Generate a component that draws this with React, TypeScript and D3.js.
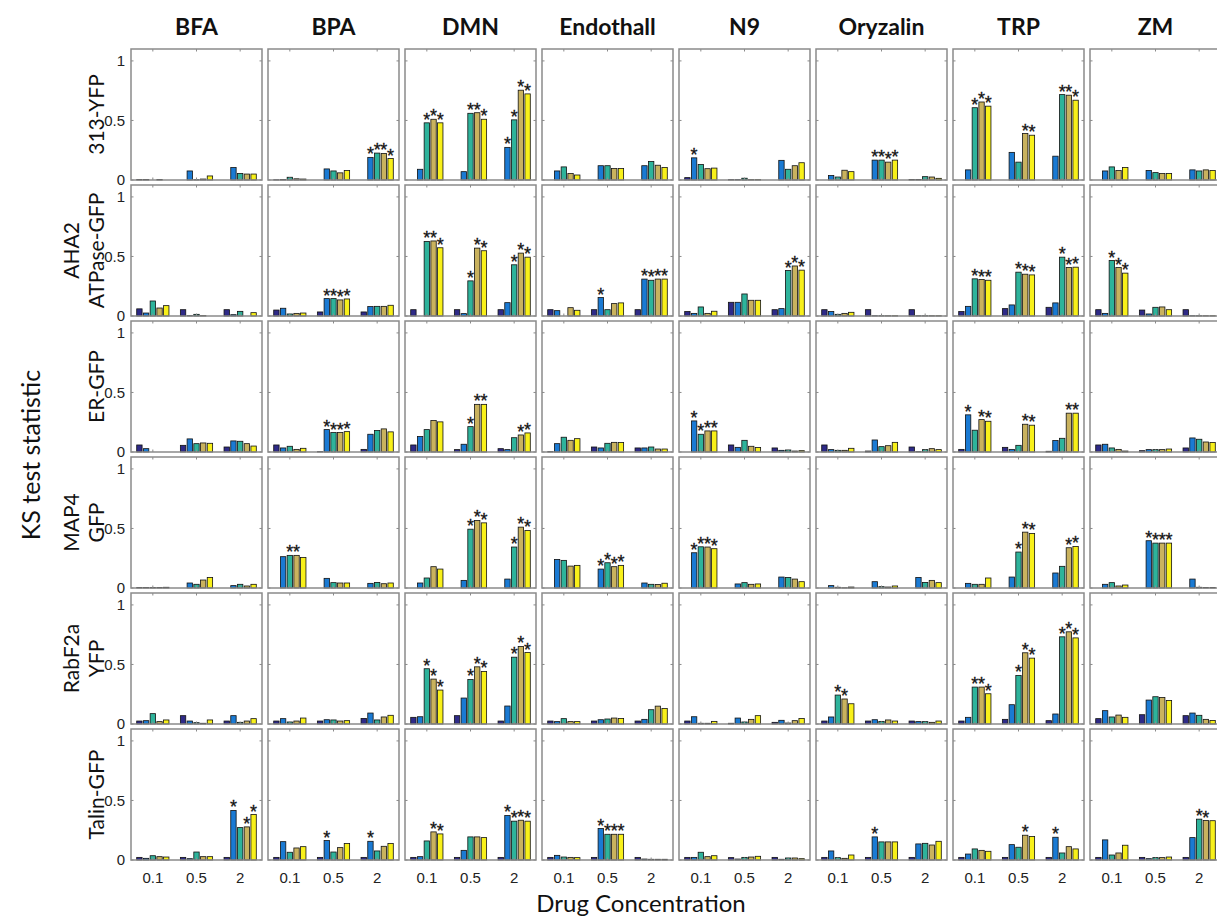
import * as d3 from "d3"

const drugs = ["BFA", "BPA", "DMN", "Endothall", "N9", "Oryzalin", "TRP", "ZM"]
const concentrations = ["0.1", "0.5", "2"]
const markerLabels = [["313-YFP"], ["AHA2", "ATPase-GFP"], ["ER-GFP"], ["MAP4", "GFP"], ["RabF2a", "YFP"], ["Talin-GFP"]]
const yTicks = [0, 0.5, 1]
const seriesColors = ["#2e2a87", "#1a7ad3", "#2eb39b", "#c9b25e", "#f8f01a"]

// KS statistic per drug -> [conc 0.1, 0.5, 2] -> 5 series
const ks313YFP = [
  [[0.005, 0.005, 0, 0.005, 0], [0, 0.076, 0.003, 0.008, 0.034], [0, 0.105, 0.055, 0.05, 0.05]],
  [[0.002, 0.005, 0.023, 0.01, 0.008], [0, 0.093, 0.076, 0.06, 0.08], [0, 0.19, 0.226, 0.223, 0.18]],
  [[0, 0.09, 0.48, 0.51, 0.48], [0, 0.07, 0.56, 0.565, 0.51], [0, 0.274, 0.505, 0.754, 0.723]],
  [[0, 0.076, 0.11, 0.054, 0.042], [0, 0.12, 0.12, 0.096, 0.096], [0, 0.12, 0.155, 0.124, 0.105]],
  [[0.02, 0.186, 0.13, 0.095, 0.1], [0.003, 0.003, 0.015, 0.003, 0.003], [0, 0.165, 0.09, 0.12, 0.145]],
  [[0, 0.037, 0.025, 0.082, 0.07], [0, 0.167, 0.167, 0.15, 0.167], [0.005, 0.005, 0.028, 0.025, 0.014]],
  [[0, 0.085, 0.607, 0.655, 0.62], [0, 0.232, 0.15, 0.39, 0.376], [0, 0.2, 0.717, 0.712, 0.67]],
  [[0, 0.076, 0.11, 0.08, 0.105], [0, 0.08, 0.062, 0.054, 0.054], [0, 0.085, 0.076, 0.085, 0.08]],
]
const ksAHA2 = [
  [[0.06, 0.025, 0.126, 0.067, 0.087], [0.053, 0.003, 0.014, 0.003, 0], [0.053, 0.011, 0.039, 0, 0.028]],
  [[0.05, 0.065, 0.017, 0.022, 0.025], [0.034, 0.146, 0.146, 0.135, 0.143], [0.034, 0.079, 0.081, 0.081, 0.09]],
  [[0.053, 0, 0.626, 0.63, 0.573], [0.053, 0.02, 0.295, 0.57, 0.548], [0.053, 0.112, 0.43, 0.528, 0.494]],
  [[0.053, 0.045, 0, 0.07, 0.048], [0.053, 0.155, 0.053, 0.104, 0.11], [0.053, 0.31, 0.3, 0.31, 0.31]],
  [[0.037, 0.022, 0.076, 0.022, 0.04], [0.115, 0.115, 0.185, 0.132, 0.132], [0.053, 0.062, 0.382, 0.42, 0.385]],
  [[0.053, 0.037, 0.014, 0.022, 0.031], [0.053, 0.002, 0.002, 0.002, 0.002], [0.053, 0.002, 0.002, 0.002, 0.002]],
  [[0.037, 0.081, 0.312, 0.306, 0.3], [0.062, 0.093, 0.368, 0.351, 0.345], [0.073, 0.11, 0.494, 0.407, 0.41]],
  [[0.053, 0.022, 0.466, 0.407, 0.36], [0.05, 0.017, 0.073, 0.076, 0.053], [0.053, 0.002, 0.002, 0.002, 0.002]],
]
const ksERGFP = [
  [[0.059, 0.028, 0, 0, 0], [0.056, 0.11, 0.07, 0.076, 0.073], [0.042, 0.093, 0.09, 0.07, 0.05]],
  [[0.059, 0.034, 0.048, 0.022, 0.031], [0.003, 0.188, 0.163, 0.163, 0.171], [0.022, 0.149, 0.18, 0.194, 0.169]],
  [[0.059, 0.13, 0.188, 0.264, 0.253], [0.02, 0.065, 0.213, 0.4, 0.4], [0.028, 0.02, 0.12, 0.143, 0.16]],
  [[0.003, 0.07, 0.124, 0.098, 0.112], [0.042, 0.034, 0.073, 0.081, 0.079], [0.034, 0.034, 0.042, 0.025, 0.025]],
  [[0, 0.261, 0.149, 0.177, 0.177], [0.059, 0.039, 0.098, 0.048, 0.037], [0.034, 0.014, 0.017, 0.008, 0.011]],
  [[0.059, 0.02, 0.014, 0.014, 0.031], [0.008, 0.101, 0.045, 0.053, 0.081], [0.042, 0.003, 0.02, 0.028, 0.02]],
  [[0.022, 0.312, 0.183, 0.272, 0.258], [0.039, 0.022, 0.056, 0.233, 0.225], [0.006, 0.096, 0.115, 0.326, 0.326]],
  [[0.059, 0.065, 0.034, 0.022, 0.008], [0.011, 0.02, 0.02, 0.02, 0.025], [0.034, 0.118, 0.107, 0.084, 0.08]],
]
const ksMAP4 = [
  [[0.005, 0.005, 0.004, 0.005, 0.006], [0, 0.042, 0.031, 0.067, 0.089], [0, 0.02, 0.031, 0.017, 0.031]],
  [[0, 0.263, 0.274, 0.274, 0.257], [0, 0.081, 0.045, 0.042, 0.042], [0, 0.039, 0.047, 0.036, 0.042]],
  [[0, 0.042, 0.084, 0.179, 0.159], [0, 0.064, 0.494, 0.567, 0.547], [0, 0.075, 0.344, 0.511, 0.483]],
  [[0, 0.24, 0.232, 0.184, 0.19], [0, 0.159, 0.212, 0.179, 0.19], [0, 0.042, 0.031, 0.03, 0.04]],
  [[0, 0.296, 0.346, 0.344, 0.33], [0, 0.034, 0.045, 0.031, 0.034], [0, 0.092, 0.089, 0.075, 0.053]],
  [[0, 0.02, 0.006, 0.002, 0.008], [0, 0.053, 0.011, 0.008, 0.017], [0, 0.089, 0.047, 0.064, 0.045]],
  [[0, 0.039, 0.031, 0.031, 0.084], [0, 0.092, 0.302, 0.469, 0.458], [0, 0.126, 0.182, 0.338, 0.349]],
  [[0, 0.031, 0.045, 0.017, 0.025], [0, 0.397, 0.377, 0.377, 0.377], [0, 0.075, 0.006, 0.004, 0.004]],
]
const ksRabF2a = [
  [[0.025, 0.028, 0.087, 0.02, 0.034], [0.07, 0.025, 0.011, 0.006, 0.034], [0.025, 0.07, 0.014, 0.025, 0.045]],
  [[0.025, 0.045, 0.017, 0.025, 0.05], [0.025, 0.036, 0.034, 0.025, 0.028], [0.047, 0.092, 0.034, 0.059, 0.073]],
  [[0.056, 0.061, 0.464, 0.377, 0.285], [0.07, 0.218, 0.374, 0.48, 0.441], [0.025, 0.151, 0.561, 0.651, 0.6]],
  [[0.025, 0.02, 0.045, 0.02, 0.02], [0.025, 0.036, 0.042, 0.05, 0.047], [0.025, 0.039, 0.12, 0.15, 0.13]],
  [[0.025, 0.061, 0.006, 0.006, 0.022], [0.006, 0.05, 0.017, 0.039, 0.07], [0.014, 0.031, 0.008, 0.028, 0.047]],
  [[0.025, 0.059, 0.243, 0.21, 0.17], [0.025, 0.036, 0.022, 0.034, 0.025], [0.025, 0.02, 0.02, 0.014, 0.025]],
  [[0.025, 0.056, 0.31, 0.31, 0.254], [0.039, 0.162, 0.408, 0.598, 0.553], [0.028, 0.084, 0.732, 0.774, 0.723]],
  [[0.045, 0.112, 0.059, 0.075, 0.056], [0.078, 0.201, 0.229, 0.223, 0.198], [0.07, 0.092, 0.073, 0.039, 0.03]],
]
const ksTalin = [
  [[0.022, 0.014, 0.036, 0.028, 0.025], [0.022, 0.011, 0.067, 0.028, 0.028], [0.022, 0.416, 0.272, 0.278, 0.382]],
  [[0.022, 0.154, 0.065, 0.101, 0.112], [0.022, 0.163, 0.067, 0.104, 0.138], [0.022, 0.157, 0.076, 0.115, 0.138]],
  [[0.022, 0.028, 0.16, 0.236, 0.219], [0.022, 0.081, 0.194, 0.194, 0.188], [0.022, 0.374, 0.326, 0.334, 0.326]],
  [[0.022, 0.039, 0.025, 0.022, 0.02], [0.022, 0.264, 0.216, 0.216, 0.216], [0.022, 0.008, 0.006, 0.006, 0.006]],
  [[0.022, 0.022, 0.065, 0.028, 0.036], [0.02, 0.008, 0.022, 0.025, 0.031], [0.022, 0.006, 0.017, 0.017, 0.011]],
  [[0.022, 0.076, 0.02, 0.014, 0.042], [0.022, 0.194, 0.152, 0.152, 0.152], [0.022, 0.135, 0.14, 0.126, 0.157]],
  [[0.022, 0.05, 0.093, 0.081, 0.073], [0.022, 0.129, 0.107, 0.208, 0.197], [0.022, 0.191, 0.059, 0.112, 0.093]],
  [[0.022, 0.169, 0.042, 0.059, 0.124], [0.022, 0.011, 0.02, 0.02, 0.025], [0.022, 0.188, 0.343, 0.331, 0.33]],
]

// significance marks: one 5-char block per concentration, "*" = significant
const sig313YFP = ["..... ..... .....", "..... ..... .****", "..*** ..*** .****", "..... ..... .....", ".*... ..... .....", "..... .**** .....", "..*** ...** ..***", "..... ..... ....."]
const sigAHA2 = ["..... ..... .....", "..... .**** .....", "..*** ..*** ..***", "..... .*... .****", "..... ..... ..***", "..... ..... .....", "..*** ..*** ..***", "..*** ..... ....."]
const sigERGFP = ["..... ..... .....", "..... .**** .....", "..... ..*** ...**", "..... ..... .....", ".**** ..... .....", "..... ..... .....", ".*.** ...** ...**", "..... ..... ....."]
const sigMAP4 = ["..... ..... .....", "..**. ..... .....", "..... ..*** ..***", "..... .**** .....", ".**** ..... .....", "..... ..... .....", "..... ..*** ...**", "..... .**** ....."]
const sigRabF2a = ["..... ..... .....", "..... ..... .....", "..*** ..*** ..***", "..... ..... .....", "..... ..... .....", "..**. ..... .....", "..*** ..*** ..***", "..... ..... ....."]
const sigTalin = ["..... ..... .*.**", "..... .*... .*...", "...** ..... .****", "..... .**** .....", "..... ..... .....", "..... .*... .....", "..... ...*. .*...", "..... ..... ..**."]

const rowValues = [ks313YFP, ksAHA2, ksERGFP, ksMAP4, ksRabF2a, ksTalin]
const rowSig = [sig313YFP, sigAHA2, sigERGFP, sigMAP4, sigRabF2a, sigTalin]

const W = 1217
const H = 920
const labelFont = "Lato, 'Open Sans', sans-serif"
const tickFont = "'Liberation Sans', Arial, sans-serif"
const frameColor = "#8a8a8a"

export default function App() {
  const col = d3.scaleBand<string>().domain(drugs).range([131, 131 + 137 * 8 - 6]).paddingInner(6 / 137)
  const row = d3.scaleBand<number>().domain(d3.range(6)).range([49, 49 + 136 * 6 - 5]).paddingInner(5 / 136)
  const pw = col.bandwidth()
  const ph = row.bandwidth()

  const y = d3.scaleLinear().domain([0, 1.1]).range([ph, 0])
  const group = d3.scaleBand<string>().domain(concentrations).range([0, pw]).padding(0)
  const gw = group.bandwidth()
  const half = 5 / 6.5 / 2
  const bar = d3
    .scaleBand<number>()
    .domain(d3.range(5))
    .range([gw * (0.5 - half), gw * (0.5 + half)])
    .paddingInner(0.2)
    .paddingOuter(0.1)

  return (
    <svg width={W} height={H} style={{ position: "absolute", left: 0, top: 0, background: "#fff" }}>
      {/* column titles */}
      {drugs.map((d) => (
        <text
          key={d}
          x={(col(d) ?? 0) + pw / 2}
          y={35}
          textAnchor="middle"
          fontFamily={labelFont}
          fontWeight="bold"
          fontSize={23}
          fill="#111"
        >
          {d}
        </text>
      ))}

      {/* row labels */}
      {markerLabels.map((lines, r) => {
        const cy = (row(r) ?? 0) + ph / 2
        return (
          <text
            key={r}
            transform={`translate(${lines.length === 1 ? 104 : 79},${cy}) rotate(-90)`}
            textAnchor="middle"
            fontFamily={labelFont}
            fontSize={21}
            fill="#111"
          >
            {lines.map((l, i) => (
              <tspan key={i} x={0} dy={i === 0 ? 0 : 25}>
                {l}
              </tspan>
            ))}
          </text>
        )
      })}

      <text
        transform={`translate(40,455) rotate(-90)`}
        textAnchor="middle"
        fontFamily={labelFont}
        fontSize={25}
        fill="#111"
      >
        KS test statistic
      </text>
      <text x={641} y={912} textAnchor="middle" fontFamily={labelFont} fontSize={24} fill="#111">
        Drug Concentration
      </text>

      {rowValues.map((rowData, r) =>
        drugs.map((drug, c) => {
          const x0 = col(drug) ?? 0
          const y0 = row(r) ?? 0
          const values = rowData[c]
          const sig = rowSig[r][c].split(" ")
          return (
            <g key={`${r}-${c}`} transform={`translate(${x0},${y0})`}>
              <rect x={0} y={0} width={pw} height={ph} fill="#fff" />
              {concentrations.map((conc, gi) => (
                <g key={conc} transform={`translate(${group(conc)},0)`}>
                  {values[gi].map((v, si) => (
                    <rect
                      key={si}
                      x={bar(si)}
                      y={y(v)}
                      width={bar.bandwidth()}
                      height={ph - y(v)}
                      fill={seriesColors[si]}
                      stroke="#111"
                      strokeWidth={0.8}
                    />
                  ))}
                  {values[gi].map((v, si) =>
                    sig[gi][si] === "*" ? (
                      <text
                        key={`s${si}`}
                        x={(bar(si) ?? 0) + bar.bandwidth() / 2}
                        y={y(v) + 3}
                        textAnchor="middle"
                        fontFamily={tickFont}
                        fontSize={18}
                        fill="#111"
                        stroke="#111"
                        strokeWidth={0.3}
                      >
                        *
                      </text>
                    ) : null,
                  )}
                </g>
              ))}
              {/* ticks */}
              {concentrations.map((conc) => {
                const tx = (group(conc) ?? 0) + gw / 2
                return (
                  <g key={`t${conc}`} stroke={frameColor} strokeWidth={1}>
                    <line x1={tx} x2={tx} y1={0} y2={2.5} />
                    <line x1={tx} x2={tx} y1={ph} y2={ph - 2.5} />
                  </g>
                )
              })}
              {yTicks.map((t) => (
                <g key={`y${t}`} stroke={frameColor} strokeWidth={1}>
                  <line x1={0} x2={2.5} y1={y(t)} y2={y(t)} />
                  <line x1={pw} x2={pw - 2.5} y1={y(t)} y2={y(t)} />
                </g>
              ))}
              <rect x={0} y={0} width={pw} height={ph} fill="none" stroke={frameColor} strokeWidth={1.5} />
              {c === 0 &&
                yTicks.map((t) => (
                  <text
                    key={`yl${t}`}
                    x={-6}
                    y={y(t)}
                    dy="0.35em"
                    textAnchor="end"
                    fontFamily={tickFont}
                    fontSize={15}
                    fill="#222"
                  >
                    {t}
                  </text>
                ))}
              {r === 5 &&
                concentrations.map((conc) => (
                  <text
                    key={`xl${conc}`}
                    x={(group(conc) ?? 0) + gw / 2}
                    y={ph + 23}
                    textAnchor="middle"
                    fontFamily={tickFont}
                    fontSize={15}
                    fill="#222"
                  >
                    {conc}
                  </text>
                ))}
            </g>
          )
        }),
      )}
    </svg>
  )
}
